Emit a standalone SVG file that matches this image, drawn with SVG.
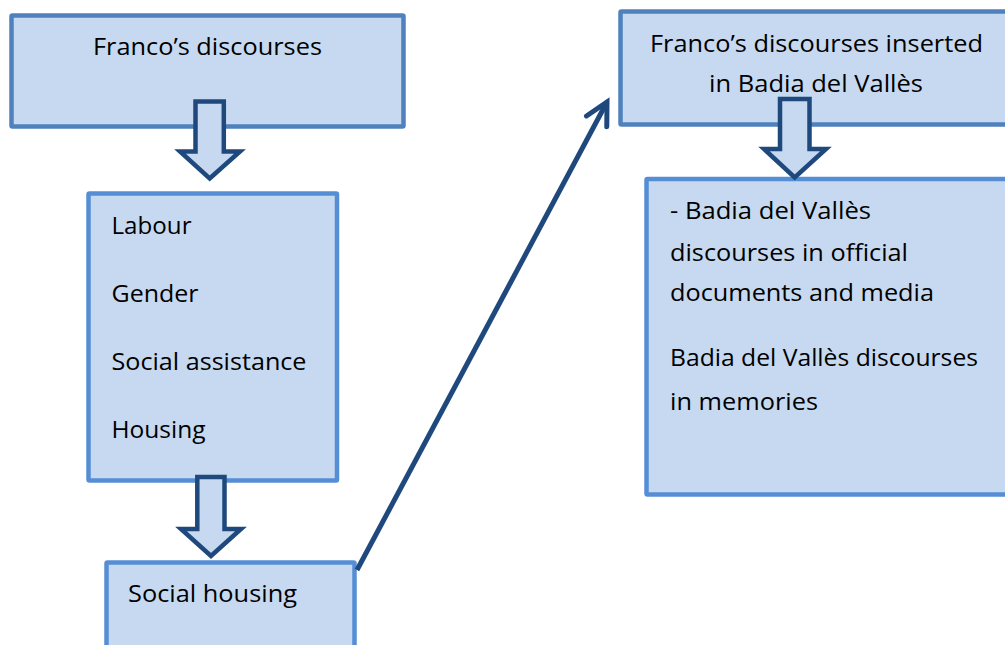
<svg xmlns="http://www.w3.org/2000/svg" width="1005" height="645" viewBox="0 0 1005 645">
  <defs>
    <style>
      .box { fill: #C6D9F1; stroke-width: 4.5; }
      .dark { stroke: #4F81BD; }
      .light { stroke: #558ED5; }
      .blk { fill: #C6D9F1; stroke: #1F497D; stroke-width: 4.5; stroke-linejoin: miter; }
      .t { font-family: "Open Sans", "Noto Sans", sans-serif; font-size: 23px; fill: #000; }
      .conn { stroke: #1F497D; stroke-width: 5; fill: none; }
    </style>
    <marker id="open" markerUnits="userSpaceOnUse" markerWidth="40" markerHeight="40" refX="0" refY="0" viewBox="-30 -20 40 40" orient="auto" overflow="visible">
      <path d="M-22,-11.5 L0,0 L-22,11.5" fill="none" stroke="#1F497D" stroke-width="5" stroke-linecap="round" stroke-linejoin="miter"/>
    </marker>
  </defs>
  <rect width="1005" height="645" fill="#FFFFFF"/>

  <g id="node-franco">
    <rect class="box dark" x="11.5" y="15.5" width="392" height="111" rx="1"/>
    <text class="t" x="207.5" y="55" text-anchor="middle" textLength="229" lengthAdjust="spacingAndGlyphs">Franco’s discourses</text>
  </g>

  <g id="node-topics">
    <rect class="box light" x="88.5" y="193.5" width="248.5" height="287" rx="1"/>
    <text class="t" x="111.5" y="234" textLength="80" lengthAdjust="spacingAndGlyphs">Labour</text>
    <text class="t" x="111.5" y="302" textLength="87" lengthAdjust="spacingAndGlyphs">Gender</text>
    <text class="t" x="111.5" y="370" textLength="195" lengthAdjust="spacingAndGlyphs">Social assistance</text>
    <text class="t" x="111.5" y="438" textLength="94" lengthAdjust="spacingAndGlyphs">Housing</text>
  </g>

  <g id="node-social-housing">
    <rect class="box light" x="106.5" y="562.5" width="248" height="100" rx="1"/>
    <text class="t" x="128" y="601.5" textLength="169" lengthAdjust="spacingAndGlyphs">Social housing</text>
  </g>

  <g id="node-inserted">
    <rect class="box dark" x="620.5" y="11.5" width="400" height="113" rx="1"/>
    <text class="t" x="650" y="51.5" textLength="333" lengthAdjust="spacingAndGlyphs">Franco’s discourses inserted</text>
    <text class="t" x="709" y="91.5" textLength="214" lengthAdjust="spacingAndGlyphs">in Badia del Vallès</text>
  </g>

  <g id="node-badia">
    <rect class="box light" x="646.5" y="179" width="380" height="315.5" rx="1"/>
    <text class="t" x="670" y="219" textLength="201" lengthAdjust="spacingAndGlyphs">- Badia del Vallès</text>
    <text class="t" x="670" y="260.5" textLength="238" lengthAdjust="spacingAndGlyphs">discourses in official</text>
    <text class="t" x="670" y="300.5" textLength="264" lengthAdjust="spacingAndGlyphs">documents and media</text>
    <text class="t" x="670" y="366" textLength="308" lengthAdjust="spacingAndGlyphs">Badia del Vallès discourses</text>
    <text class="t" x="670" y="410" textLength="148" lengthAdjust="spacingAndGlyphs">in memories</text>
  </g>

  <g id="connectors">
    <polygon class="blk" points="195.5,101.5 223.8,101.5 223.8,151.5 240,151.5 209.7,178.5 180,151.5 195.5,151.5"/>
    <polygon class="blk" points="197.3,477 224.5,477 224.5,529 241,529 211,556 181,529 197.3,529"/>
    <polygon class="blk" points="780,99 809.5,99 809.5,149 826,149 794.7,177.5 764,149 780,149"/>
    <line class="conn" x1="357" y1="570" x2="607" y2="102" marker-end="url(#open)"/>
  </g>
</svg>
